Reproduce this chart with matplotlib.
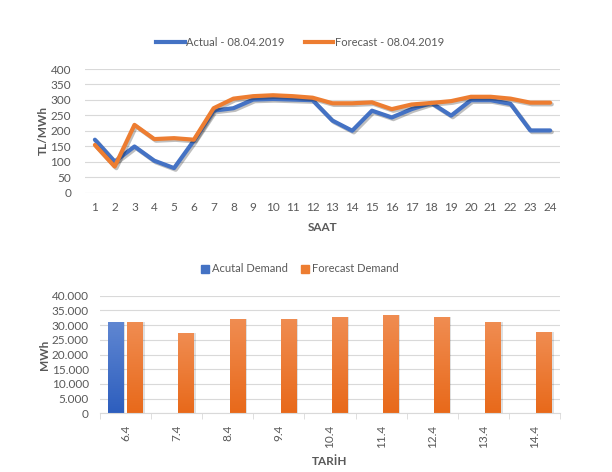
import matplotlib
matplotlib.use("Agg")
import matplotlib.pyplot as plt
import numpy as np
from matplotlib.ticker import FuncFormatter
import matplotlib.patheffects as pe
from matplotlib.colors import LinearSegmentedColormap
from matplotlib.lines import Line2D
from matplotlib.patches import Patch

plt.rcParams['font.family'] = ['Lato', 'DejaVu Sans']

hours = [str(h) for h in range(1, 25)]
actual_price = [171, 100, 149, 103, 79, 168, 265, 273, 301, 303, 301, 299,
                233, 200, 265, 243, 270, 290, 249, 299, 299, 287, 201, 201]
forecast_price = [154, 84, 219, 173, 176, 171, 273, 304, 312, 315, 312, 307,
                  289, 289, 292, 270, 285, 290, 296, 310, 310, 304, 291, 291]

dates = ["6.4", "7.4", "8.4", "9.4", "10.4", "11.4", "12.4", "13.4", "14.4"]
actual_demand = [31000, None, None, None, None, None, None, None, None]
forecast_demand = [31000, 27400, 32100, 32100, 32800, 33400, 32800, 31050, 27650]

top_yticks = [0, 50, 100, 150, 200, 250, 300, 350, 400]
bot_yticks = [0, 5000, 10000, 15000, 20000, 25000, 30000, 35000, 40000]

BLUE = '#4472C4'
ORANGE = '#ED7D31'
TXT = '#595959'
GRID = '#D9D9D9'

W, H = 612, 472
fig = plt.figure(figsize=(W / 100, H / 100), dpi=100)

def ax_rect(x0, x1, y0, y1):
    return [x0 / W, 1 - y1 / H, (x1 - x0) / W, (y1 - y0) / H]

# ---------- top chart ----------
ax1 = fig.add_axes(ax_rect(85, 560, 69, 192.5))
x = np.arange(len(hours))
shadow = [pe.SimpleLineShadow(offset=(1.2, -1.2), alpha=0.25, shadow_color='k'), pe.Normal()]
ax1.plot(x, actual_price, color=BLUE, lw=3.0, solid_joinstyle='round',
         solid_capstyle='round', path_effects=shadow, zorder=3)
ax1.plot(x, forecast_price, color=ORANGE, lw=3.0, solid_joinstyle='round',
         solid_capstyle='round', path_effects=shadow, zorder=4)
ax1.set_xlim(-0.5, len(hours) - 0.5)
ax1.set_ylim(0, 400)
ax1.set_yticks(top_yticks)
ax1.set_xticks(x)
ax1.set_xticklabels(hours)
ax1.grid(axis='y', color=GRID, lw=0.8)
ax1.set_axisbelow(True)
for s in ax1.spines.values():
    s.set_visible(False)
ax1.tick_params(length=0, labelsize=8.5, labelcolor=TXT, pad=7)
ax1.tick_params(axis='y', pad=10)
ax1.set_ylabel('TL/MWh', fontsize=8.5, fontweight='bold', color=TXT, labelpad=1)
ax1.set_xlabel('SAAT', fontsize=8.5, fontweight='bold', color=TXT, labelpad=6)
h1 = [Line2D([], [], color=BLUE, lw=3.0), Line2D([], [], color=ORANGE, lw=3.0)]
ax1.legend(h1, ['Actual - 08.04.2019', 'Forecast - 08.04.2019'], loc='center',
           bbox_to_anchor=(0.49, (H - 42) / H), bbox_transform=fig.transFigure,
           ncol=2, frameon=False, fontsize=8, labelcolor=TXT, handlelength=2.6,
           handletextpad=0.1, columnspacing=1.8)

# ---------- bottom chart ----------
ax2 = fig.add_axes(ax_rect(100, 560, 295.7, 413.3))
xb = np.arange(len(dates))
bw = 0.31
off = 0.19

cmap_b = LinearSegmentedColormap.from_list('b', ['#2D5EBE', '#6087D2'])
cmap_o = LinearSegmentedColormap.from_list('o', ['#E8691A', '#F08D52'])
grad = np.linspace(0, 1, 256).reshape(-1, 1)

def grad_bars(xs, vals, cmap, color):
    xs2 = [xx for xx, v in zip(xs, vals) if v is not None]
    vs2 = [v for v in vals if v is not None]
    bars = ax2.bar(xs2, vs2, width=bw, color=color, zorder=2)
    for b in bars:
        bx, by = b.get_x(), b.get_y()
        bwid, bh = b.get_width(), b.get_height()
        ax2.bar(bx + bwid / 2 + 0.03, bh, width=bwid, bottom=by, color='#000000',
                alpha=0.12, zorder=1.5)
        b.set_facecolor('none')
        im = ax2.imshow(grad, cmap=cmap, origin='lower', aspect='auto',
                        extent=[bx, bx + bwid, by, by + bh], zorder=2.5)
        im.set_clip_path(b)
    return bars

grad_bars(xb - off, actual_demand, cmap_b, BLUE)
grad_bars(xb + off, forecast_demand, cmap_o, ORANGE)
ax2.set_xlim(-0.5, len(dates) - 0.5)
ax2.set_ylim(0, 40000)
ax2.set_yticks(bot_yticks)
ax2.yaxis.set_major_formatter(FuncFormatter(lambda v, p: f"{int(v):,}".replace(',', '.')))
ax2.set_xticks(xb)
ax2.set_xticklabels(dates, rotation=90)
ax2.set_xticks(np.arange(-0.5, len(dates)), minor=True)
ax2.grid(axis='y', color=GRID, lw=0.8)
ax2.set_axisbelow(True)
for k in ['top', 'right', 'left']:
    ax2.spines[k].set_visible(False)
ax2.spines['bottom'].set_color(GRID)
ax2.tick_params(axis='x', which='major', length=0, labelsize=8.5, labelcolor=TXT, pad=8)
ax2.tick_params(axis='x', which='minor', length=4, color=GRID)
ax2.tick_params(axis='y', length=0, labelsize=8.5, labelcolor=TXT, pad=8)
ax2.set_ylabel('MWh', fontsize=8.5, fontweight='bold', color=TXT, labelpad=1)
ax2.set_xlabel('TARİH', fontsize=8.5, fontweight='bold', color=TXT, labelpad=6)
h2 = [Patch(color=BLUE), Patch(color=ORANGE)]
ax2.legend(h2, ['Acutal Demand', 'Forecast Demand'], loc='center',
           bbox_to_anchor=(0.49, (H - 269) / H), bbox_transform=fig.transFigure,
           ncol=2, frameon=False, fontsize=8, labelcolor=TXT, handlelength=0.7,
           handleheight=0.7, handletextpad=0.3, columnspacing=1.2)

fig.savefig('out.png', dpi=100)
